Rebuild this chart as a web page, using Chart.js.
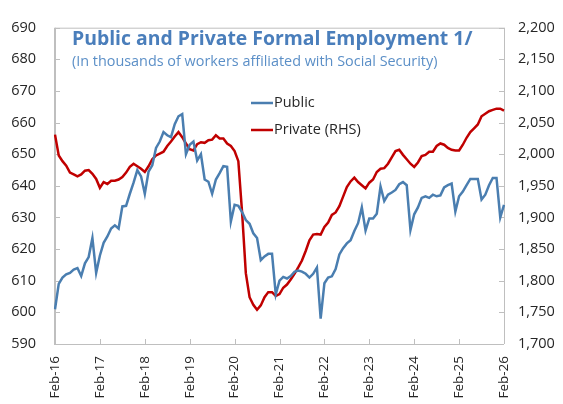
<!DOCTYPE html>
<html>
<head>
<meta charset="utf-8">
<script src="https://cdn.jsdelivr.net/npm/chart.js@4"></script>
<style>
  html, body { margin: 0; padding: 0; background: #fff; }
  #wrap { width: 563px; height: 404px; }
</style>
</head>
<body>
<div id="wrap"><canvas id="empleo"></canvas></div>
<script>
// monthly labels Feb-16 .. Feb-26
const monthNames = ['Jan','Feb','Mar','Apr','May','Jun','Jul','Aug','Sep','Oct','Nov','Dec'];
const months = [];
for (let k = 0; k <= 120; k++) {
  const m = (1 + k) % 12;
  const yr = 16 + Math.floor((1 + k) / 12);
  months.push(monthNames[m] + '-' + yr);
}

// public formal employment, thousands (left axis)
const publicEmp = [
  601, 609, 611, 612, 612.5, 613.5, 614, 611.5, 615.5, 617.5, 623.5, 612.5,
  618, 622, 624, 626.5, 627.5, 626.5, 633.5, 633.7, 637.5, 641, 645, 643,
  637.5, 644.5, 646.5, 652, 654, 657, 656, 655.4, 659.5, 662, 662.7, 650,
  653, 654, 648, 650, 642, 641.3, 637.5, 642, 644, 646.2, 646, 628.7,
  634, 633.7, 631.7, 629.2, 628, 625, 623.5, 616.5, 617.7, 618.5, 618.5, 605.7,
  610, 611.2, 610.7, 611.5, 612.8, 613.2, 612.9, 612.2, 611, 612.2, 614.2, 598,
  609.2, 611, 611.4, 613.7, 618.3, 620.3, 621.8, 622.8, 625.7, 628.2, 633.2, 625.9,
  629.7, 629.7, 631.2, 639.8, 635.2, 637.2, 637.9, 638.7, 640.5, 641.2, 640.2, 626,
  631, 633.2, 636.2, 636.7, 636.2, 637.2, 636.7, 637, 639.5, 640.2, 640.7, 631.9,
  636.7, 638.2, 640.2, 642.2, 642.2, 642.2, 635.7, 637.2, 640.2, 642.5, 642.5, 630,
  634
];

// private formal employment, thousands (right axis)
const privateEmp = [
  2031, 1998, 1989, 1982, 1971, 1968, 1965, 1968, 1974, 1975, 1969, 1961,
  1947, 1956, 1953, 1958, 1958, 1960, 1964, 1971, 1980, 1985, 1981, 1977,
  1972, 1981, 1992, 1998, 2001, 2004, 2013, 2020, 2028, 2035, 2027, 2017,
  2008, 2006, 2016, 2019, 2018, 2022, 2023, 2030, 2025, 2025, 2017, 2013,
  2005, 1989, 1908, 1812, 1774, 1762, 1754, 1761, 1774, 1782, 1782, 1776,
  1779, 1789, 1794, 1802, 1811, 1821, 1832, 1847, 1864, 1873, 1874, 1873,
  1885, 1892, 1904, 1908, 1918, 1933, 1948, 1957, 1963, 1956, 1951, 1946,
  1955, 1960, 1972, 1977, 1978, 1985, 1995, 2005, 2007, 1999, 1992, 1985,
  1980, 1987, 1997, 1999, 2004, 2004, 2013, 2017, 2015, 2010, 2007, 2006,
  2006, 2015, 2026, 2035, 2041, 2047, 2060, 2064, 2068, 2070, 2072, 2072,
  2069
];

const titleText = 'Public and Private Formal Employment 1/';
const subtitleText = '(In thousands of workers affiliated with Social Security)';
const seriesNames = ['Public', 'Private (RHS)'];
const seriesColors = ['#4A7EB0', '#C00000'];

const FONT = "'Open Sans', sans-serif";
const AXIS_GREY = '#BFBFBF';

// box around the plot with short inward tick marks
const framePlugin = {
  id: 'frame',
  beforeDatasetsDraw(chart) {
    const { ctx, chartArea: a, scales } = chart;
    ctx.save();
    ctx.strokeStyle = AXIS_GREY;
    ctx.lineWidth = 1;
    ctx.beginPath();
    ctx.moveTo(a.left, a.top + 0.5); ctx.lineTo(a.right, a.top + 0.5);
    ctx.moveTo(a.left, a.bottom + 0.5); ctx.lineTo(a.right, a.bottom + 0.5);
    ctx.moveTo(a.right + 0.5, a.top); ctx.lineTo(a.right + 0.5, a.bottom);
    scales.y.ticks.forEach((t, i) => {
      const y = Math.round(scales.y.getPixelForTick(i)) + 0.5;
      ctx.moveTo(a.left, y); ctx.lineTo(a.left + 5, y);
    });
    scales.y1.ticks.forEach((t, i) => {
      const y = Math.round(scales.y1.getPixelForTick(i)) + 0.5;
      ctx.moveTo(a.right - 5, y); ctx.lineTo(a.right, y);
    });
    months.forEach((lab, i) => {
      if (i % 12 !== 0) return;
      const x = Math.round(scales.x.getPixelForValue(i)) + 0.5;
      ctx.moveTo(x, a.bottom); ctx.lineTo(x, a.bottom - 5);
    });
    ctx.stroke();
    ctx.lineWidth = 2;
    ctx.beginPath();
    ctx.moveTo(a.left, a.top); ctx.lineTo(a.left, a.bottom + 1);
    ctx.stroke();
    ctx.restore();
  }
};

// title, subtitle and legend sitting inside the plot
const headerPlugin = {
  id: 'header',
  afterDatasetsDraw(chart) {
    const { ctx } = chart;
    ctx.save();
    ctx.textBaseline = 'alphabetic';
    ctx.fillStyle = '#4A7EBB';
    ctx.font = 'bold 19.4px ' + FONT;
    ctx.fillText(titleText, 72, 45);
    ctx.fillStyle = '#5B8FC7';
    ctx.font = '14.4px ' + FONT;
    ctx.fillText(subtitleText, 72, 66);

    ctx.textBaseline = 'middle';
    ctx.font = '14.5px ' + FONT;
    seriesNames.forEach((name, i) => {
      const y = 103 + i * 27;
      ctx.strokeStyle = seriesColors[i];
      ctx.lineWidth = 2.5;
      ctx.beginPath();
      ctx.moveTo(251, y); ctx.lineTo(273, y);
      ctx.stroke();
      ctx.fillStyle = '#262626';
      ctx.fillText(name, 274, y);
    });
    ctx.restore();
  }
};

new Chart(document.getElementById('empleo'), {
  type: 'line',
  data: {
    labels: months,
    datasets: [{
      label: seriesNames[0],
      data: publicEmp,
      yAxisID: 'y',
      borderColor: seriesColors[0],
      borderWidth: 2.5,
      pointRadius: 0,
      tension: 0,
      fill: false
    }, {
      label: seriesNames[1],
      data: privateEmp,
      yAxisID: 'y1',
      borderColor: seriesColors[1],
      borderWidth: 2.5,
      pointRadius: 0,
      tension: 0,
      fill: false
    }]
  },
  options: {
    responsive: true,
    maintainAspectRatio: false,
    animation: false,
    layout: { padding: { top: 6, left: 0, right: 0, bottom: 0 } },
    plugins: {
      legend: { display: false },
      title: { display: false },
      tooltip: { enabled: false }
    },
    scales: {
      x: {
        grid: { display: false, drawTicks: false },
        border: { display: false },
        afterFit: s => { s.height = 60; },
        ticks: {
          autoSkip: false,
          minRotation: 90,
          maxRotation: 90,
          padding: 12,
          color: '#262626',
          font: { family: FONT, size: 13.5 },
          callback: (v, i) => (i % 12 === 0 ? months[i] : '')
        }
      },
      y: {
        position: 'left',
        min: 590, max: 690,
        grid: { display: false, drawTicks: false },
        border: { display: false },
        afterFit: s => { s.width = 55; },
        ticks: {
          stepSize: 10,
          padding: 19,
          color: '#262626',
          font: { family: FONT, size: 14.5 }
        }
      },
      y1: {
        position: 'right',
        min: 1700, max: 2200,
        grid: { display: false, drawTicks: false },
        border: { display: false },
        afterFit: s => { s.width = 59; },
        ticks: {
          stepSize: 50,
          padding: 14,
          color: '#262626',
          font: { family: FONT, size: 14.5 },
          callback: v => v.toLocaleString('en-US')
        }
      }
    }
  },
  plugins: [framePlugin, headerPlugin]
});
</script>
</body>
</html>
